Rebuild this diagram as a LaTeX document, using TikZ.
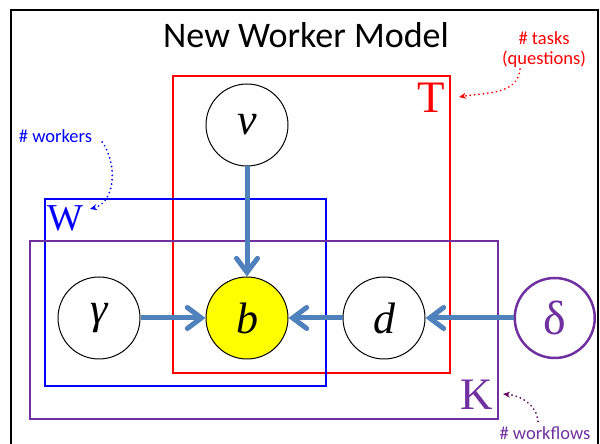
\documentclass[tikz,border=0pt]{standalone}
\usepackage{fontspec}
\setmainfont{Carlito}
\newfontfamily\timesfont{Liberation Serif}
\usetikzlibrary{arrows.meta,positioning}
\definecolor{taskred}{RGB}{255,0,0}
\definecolor{workerblue}{RGB}{0,0,255}
\definecolor{flowpurple}{RGB}{112,48,160}
\definecolor{flowdark}{RGB}{96,0,96}
\definecolor{edgeblue}{RGB}{79,129,189}
\definecolor{obsyellow}{RGB}{255,255,0}
\tikzset{
  var/.style={circle,draw=black,line width=1pt,fill=white,
              minimum size=82pt,inner sep=0pt,
              font=\fontsize{44}{44}\timesfont\itshape},
  varobs/.style={var,fill=obsyellow},
  hyper/.style={var,draw=flowpurple,line width=2.5pt,text=flowpurple,
                minimum size=80pt,font=\fontsize{48}{48}\timesfont},
  dep/.style={-{Straight Barb[length=14pt,width=21pt,line cap=round]},
              line width=5pt,edgeblue},
  platelbl/.style={inner sep=0pt,font=\fontsize{45}{45}\timesfont},
  note/.style={font=\fontsize{18.5}{20}\selectfont,align=center,inner sep=1pt},
  pointer/.style={-{Stealth[length=7pt,width=6pt]},line width=2pt,
                  dash pattern=on 0.01pt off 4.4pt,line cap=round},
}
\begin{document}
\begin{tikzpicture}[x=1pt,y=1pt,
    plate/.style={line width=1.4pt}
  ]
    \useasboundingbox (0,0) rectangle (600,444);
    % frame of the slide
    \draw[line width=2.5pt] (11,-5) |- (598,434) -- (598,-5);
    \node[font=\fontsize{36}{38}\selectfont,anchor=base] (title) at (306,396.5)
      {New Worker Model};
    % plates
    \draw[plate,taskred] (173,368) rectangle (450,71);
    \draw[plate,workerblue] (45,245) rectangle (326,58);
    \draw[plate,flowpurple,line width=2pt] (30,203) rectangle (498,25);
    \node[platelbl,taskred,anchor=base east] (tlbl) at (445,331) {T};
    \node[platelbl,workerblue,anchor=base west,
          font=\fontsize{38}{38}\timesfont] (wlbl) at (47,213) {W};
    \node[platelbl,flowpurple,anchor=base east] (klbl) at (493,34) {K};
    % variables
    \node[varobs] (b) at (247,126) {b};
    \node[var,above=110pt of b] (v) {v};
    \node[var,left=65pt of b] (gamma) {γ};
    \node[var,right=54pt of b] (d) {d};
    \node[hyper,right=88pt of d] (delta) {δ};
    \draw[dep] (v) -- (b);
    \draw[dep] (gamma) -- (b);
    \draw[dep] (d) -- (b);
    \draw[dep] (delta) -- (d);
    % annotations
    \node[note,taskred] (tasks) at (544,394) {\# tasks\\(questions)};
    \node[note,workerblue] (workers) at (55.5,308) {\# workers};
    \node[note,flowpurple,anchor=base] (flows) at (545,4.5) {\# workflows};
    \coordinate (tasksend) at (459,347);
    \coordinate (workersend) at (90,235);
    \coordinate (flowsend) at (503,50);
    \draw[pointer,taskred] ([xshift=-24pt]tasks.south)
      to[out=-95,in=10] (tasksend);
    \draw[pointer,workerblue] ([shift={(9pt,-6pt)}]workers.east)
      to[out=-55,in=15] (workersend);
    \draw[pointer,flowdark] ([shift={(-7pt,4pt)}]flows.north)
      to[out=95,in=-5] (flowsend);
  \end{tikzpicture}
\end{document}
